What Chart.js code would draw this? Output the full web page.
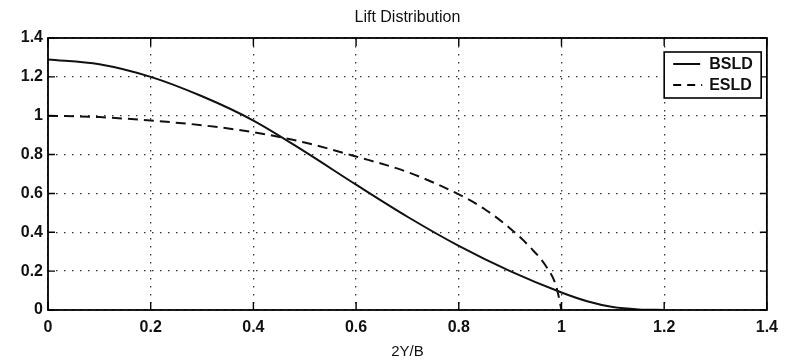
<!DOCTYPE html>
<html lang="en">
<head>
    <meta charset="UTF-8">
    <title>Lift Distribution</title>
    <style>
        * { margin: 0; padding: 0; box-sizing: border-box; }
        body { background: #ffffff; width: 786px; height: 361px; overflow: hidden; }
        #wrap { position: relative; width: 786px; height: 361px; }
    </style>
</head>
<body>
    <div id="wrap"><canvas id="liftChart" width="786" height="361"></canvas></div>

    <script src="https://cdn.jsdelivr.net/npm/chart.js"></script>
    <script>
        // values
        const spanBSLD = [0, 0.1, 0.2, 0.3, 0.4, 0.5, 0.6, 0.7, 0.8, 0.9, 1.0, 1.05, 1.1, 1.15, 1.2];
        const liftBSLD = [1.29, 1.265, 1.2, 1.1, 0.975, 0.815, 0.645, 0.48, 0.33, 0.2, 0.09, 0.045, 0.015, 0.003, 0];
        const spanESLD = [0, 0.1, 0.2, 0.3, 0.4, 0.5, 0.6, 0.7, 0.8, 0.85, 0.9, 0.94, 0.97, 0.99, 1.0];
        const liftESLD = [1.0, 0.993, 0.975, 0.951, 0.915, 0.862, 0.79, 0.71, 0.595, 0.52, 0.42, 0.32, 0.225, 0.12, 0];
        const xTicks = [0, 0.2, 0.4, 0.6, 0.8, 1, 1.2, 1.4];
        const yTicks = [0, 0.2, 0.4, 0.6, 0.8, 1, 1.2, 1.4];
        const seriesNames = ['BSLD', 'ESLD'];

        const FONT = "'Liberation Sans', Arial, sans-serif";
        const toPoints = (xs, ys) => xs.map((x, i) => ({ x: x, y: ys[i] }));

        // box, inward ticks, legend and title like the old matlab figure
        const framePlugin = {
            id: 'frame',
            afterDraw(chart) {
                const ctx = chart.ctx;
                const a = chart.chartArea;
                const xs = chart.scales.x, ys = chart.scales.y;
                ctx.save();
                ctx.strokeStyle = '#000';
                ctx.lineWidth = 1.8;
                ctx.strokeRect(a.left, a.top, a.right - a.left, a.bottom - a.top);

                ctx.lineWidth = 1.4;
                ctx.beginPath();
                xTicks.forEach(v => {
                    const px = xs.getPixelForValue(v);
                    ctx.moveTo(px, a.bottom); ctx.lineTo(px, a.bottom - 8);
                    ctx.moveTo(px, a.top); ctx.lineTo(px, a.top + 8);
                });
                yTicks.forEach(v => {
                    const py = ys.getPixelForValue(v);
                    ctx.moveTo(a.left, py); ctx.lineTo(a.left + 7, py);
                    ctx.moveTo(a.right, py); ctx.lineTo(a.right - 7, py);
                });
                ctx.stroke();

                // legend
                const lx = xs.getPixelForValue(1.2), ly = 52, lw = 97, lh = 46;
                ctx.fillStyle = '#fff';
                ctx.fillRect(lx, ly, lw, lh);
                ctx.lineWidth = 1.6;
                ctx.strokeRect(lx, ly, lw, lh);
                ctx.font = 'bold 16px ' + FONT;
                ctx.fillStyle = '#111';
                ctx.textBaseline = 'middle';
                ctx.textAlign = 'left';
                ctx.lineWidth = 1.9;
                ctx.beginPath();
                ctx.moveTo(lx + 9, ly + 12); ctx.lineTo(lx + 36, ly + 12);
                ctx.stroke();
                ctx.fillText(seriesNames[0], lx + 45, ly + 13);
                ctx.setLineDash([8, 6]);
                ctx.beginPath();
                ctx.moveTo(lx + 9, ly + 33); ctx.lineTo(lx + 38, ly + 33);
                ctx.stroke();
                ctx.setLineDash([]);
                ctx.fillText(seriesNames[1], lx + 45, ly + 34);

                // title
                ctx.textAlign = 'center';
                ctx.font = '16px ' + FONT;
                ctx.fillText('Lift Distribution', (a.left + a.right) / 2, 18);
                ctx.restore();
            }
        };

        const ctxLift = document.getElementById('liftChart').getContext('2d');
        const liftChart = new Chart(ctxLift, {
            type: 'line',
            data: {
                datasets: [
                    {
                        label: seriesNames[0],
                        data: toPoints(spanBSLD, liftBSLD),
                        borderColor: '#111',
                        borderWidth: 2,
                        pointRadius: 0,
                        cubicInterpolationMode: 'monotone',
                        fill: false,
                    },
                    {
                        label: seriesNames[1],
                        data: toPoints(spanESLD, liftESLD),
                        borderColor: '#111',
                        borderWidth: 2,
                        borderDash: [10, 6],
                        pointRadius: 0,
                        cubicInterpolationMode: 'monotone',
                        fill: false,
                    },
                ],
            },
            options: {
                responsive: false,
                animation: false,
                layout: { padding: { left: 0, right: 16, top: 38, bottom: 0 } },
                plugins: {
                    legend: { display: false },
                    title: { display: false },
                    tooltip: { enabled: false },
                },
                scales: {
                    x: {
                        type: 'linear',
                        min: 0,
                        max: 1.4,
                        afterBuildTicks: s => { s.ticks = xTicks.map(v => ({ value: v })); },
                        afterFit: s => { s.height = 51; },
                        grid: { color: '#333', lineWidth: 1.3, drawTicks: false },
                        border: { display: false, dash: [1.5, 6.5] },
                        ticks: {
                            padding: 8,
                            color: '#111',
                            font: { family: FONT, size: 16, weight: 'bold' },
                            callback: v => String(v),
                        },
                        title: {
                            display: true,
                            text: '2Y/B',
                            color: '#111',
                            font: { family: FONT, size: 15 },
                            padding: { top: 1, bottom: 0 },
                        },
                    },
                    y: {
                        type: 'linear',
                        min: 0,
                        max: 1.4,
                        afterBuildTicks: s => { s.ticks = yTicks.map(v => ({ value: v })); },
                        afterFit: s => { s.width = 48; },
                        grid: { color: '#333', lineWidth: 1.3, drawTicks: false },
                        border: { display: false, dash: [1.5, 6.5] },
                        ticks: {
                            padding: 5,
                            color: '#111',
                            font: { family: FONT, size: 16, weight: 'bold' },
                            callback: v => String(v),
                        },
                    },
                },
            },
            plugins: [framePlugin],
        });
    </script>
</body>
</html>
